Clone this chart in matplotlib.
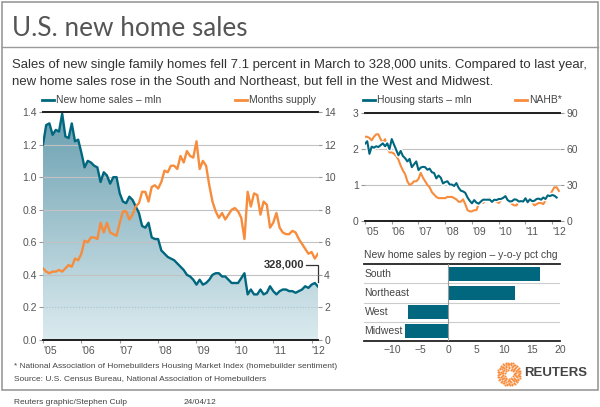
import matplotlib.pyplot as plt
import matplotlib.patheffects as pe
import numpy as np
from matplotlib.colors import LinearSegmentedColormap
from matplotlib.lines import Line2D
from matplotlib.patches import Rectangle

plt.rcParams['font.family'] = ['Liberation Sans', 'DejaVu Sans']

TEAL = '#00677f'
ORANGE = '#f68c3c'
GRAY_TXT = '#555555'

# monthly, Jan 2005 - Mar 2012, mln units (annual rate)
new_home_sales = [
    1.20, 1.32, 1.33, 1.26, 1.29, 1.28, 1.39, 1.25, 1.24, 1.33, 1.22, 1.23,
    1.15, 1.06, 1.10, 1.09, 1.07, 1.06, 0.97, 1.03, 1.01, 0.96, 1.00, 1.00,
    0.90, 0.85, 0.84, 0.88, 0.86, 0.82, 0.78, 0.70, 0.69, 0.72, 0.63, 0.62,
    0.62, 0.55, 0.53, 0.51, 0.50, 0.49, 0.47, 0.45, 0.43, 0.40, 0.39, 0.37,
    0.34, 0.37, 0.34, 0.35, 0.37, 0.40, 0.41, 0.41, 0.39, 0.39, 0.37, 0.35,
    0.35, 0.35, 0.38, 0.41, 0.28, 0.31, 0.28, 0.28, 0.31, 0.28, 0.29, 0.33,
    0.30, 0.28, 0.30, 0.31, 0.31, 0.30, 0.30, 0.29, 0.30, 0.31, 0.33, 0.32,
    0.34, 0.35, 0.328,
]

# months supply, Jan 2005 - Mar 2012
months_supply = [
    4.4, 4.2, 4.1, 4.2, 4.2, 4.3, 4.2, 4.4, 4.6, 4.5, 5.0, 4.9,
    5.3, 6.1, 6.0, 6.3, 6.3, 6.2, 7.2, 6.6, 7.2, 6.6, 6.5, 6.4,
    7.2, 7.9, 7.9, 7.4, 7.7, 8.2, 8.4, 9.1, 9.1, 8.5, 9.4, 9.5,
    9.3, 9.7, 10.4, 10.3, 10.7, 10.7, 10.5, 11.3, 10.9, 11.6, 11.3, 11.2,
    12.2, 10.5, 11.0, 10.7, 9.5, 8.5, 7.9, 7.5, 7.8, 7.4, 7.7, 8.0,
    8.1, 7.9, 7.5, 6.2, 9.1, 8.2, 9.0, 8.9, 7.7, 8.5, 8.3, 6.9,
    7.2, 7.8, 6.9, 6.6, 6.5, 6.5, 6.7, 6.6, 6.2, 5.9, 5.6, 5.3,
    5.4, 5.0, 5.3,
]

# housing starts, mln, Jan 2005 - Mar 2012
housing_starts = [
    2.14, 2.21, 1.86, 2.06, 2.03, 2.07, 2.05, 2.10, 2.15, 2.07, 2.15, 1.99,
    2.27, 2.12, 1.97, 1.82, 1.94, 1.80, 1.74, 1.65, 1.72, 1.49, 1.57, 1.65,
    1.41, 1.48, 1.50, 1.49, 1.42, 1.45, 1.35, 1.33, 1.18, 1.26, 1.20, 1.04,
    1.08, 1.10, 1.01, 1.01, 0.97, 1.05, 0.92, 0.84, 0.82, 0.78, 0.65, 0.56,
    0.49, 0.58, 0.51, 0.48, 0.54, 0.59, 0.59, 0.59, 0.59, 0.53, 0.59, 0.58,
    0.61, 0.61, 0.64, 0.69, 0.58, 0.54, 0.55, 0.60, 0.59, 0.54, 0.55, 0.54,
    0.63, 0.52, 0.60, 0.55, 0.56, 0.61, 0.62, 0.59, 0.65, 0.61, 0.71, 0.69,
    0.72, 0.70, 0.65,
]

# NAHB housing market index, Jan 2005 - Apr 2012
nahb = [
    70, 70, 69, 67, 70, 72, 72, 68, 65, 68, 61, 57,
    57, 56, 54, 51, 46, 42, 39, 33, 30, 31, 33, 33,
    35, 40, 36, 33, 30, 28, 24, 22, 20, 19, 19, 19,
    19, 20, 20, 20, 19, 18, 16, 16, 18, 14, 9, 8,
    8, 9, 9, 14, 16, 15, 17, 18, 19, 17, 17, 16,
    15, 17, 19, 22, 17, 16, 14, 13, 13, 16, 16, 16,
    16, 15, 17, 16, 13, 14, 15, 15, 14, 17, 19, 21,
    25, 28, 28, 25,
]

regions = ['South', 'Northeast', 'West', 'Midwest']
region_chg = [16.4, 12.0, -7.2, -7.7]

year_labels = ["'05", "'06", "'07", "'08", "'09", "'10", "'11", "'12"]

W, H = 600, 407


def fx(px):
    return px / W


def fy(py):
    return 1 - py / H


def box(l, t, r, b):
    return [fx(l), fy(b), (r - l) / W, (b - t) / H]


def style(ax, ax_twin=None):
    for a in [ax] + ([ax_twin] if ax_twin else []):
        a.spines['left'].set_visible(False)
        a.spines['right'].set_visible(False)
        a.spines['top'].set_color('#222222')
        a.spines['bottom'].set_color('#222222')
        a.spines['top'].set_linewidth(1.3)
        a.spines['bottom'].set_linewidth(1.3)
        a.tick_params(labelsize=7.5, labelcolor=GRAY_TXT, color='#999999',
                      length=3, width=0.8, pad=1.5)


fig = plt.figure(figsize=(6, 4.07), dpi=100)

# ---------------- main chart ----------------
ax1 = fig.add_axes(box(43, 112, 318, 340))
ax2 = ax1.twinx()
x = np.arange(len(new_home_sales))

poly = ax1.fill_between(x, new_home_sales, 0, facecolor='none', edgecolor='none')
grad = np.linspace(1, 0, 256).reshape(-1, 1)
cmap = LinearSegmentedColormap.from_list('fill', ['#dbebef', '#6a9fb0'])
im = ax1.imshow(grad, extent=[0, len(x) - 1, 0, 1.4], aspect='auto',
                cmap=cmap, origin='upper', zorder=0)
im.set_clip_path(poly.get_paths()[0], transform=ax1.transData)
ax1.plot(x, new_home_sales, color=TEAL, lw=1.7, zorder=3)
ax2.plot(x, months_supply, color=ORANGE, lw=1.7)

ax1.set_xlim(0, len(x) - 1)
ax1.set_ylim(0, 1.4)
ax2.set_ylim(0, 14)
ax1.set_yticks(np.arange(0, 1.41, 0.2))
ax1.set_yticklabels([f'{v:.1f}' for v in np.arange(0, 1.41, 0.2)])
ax2.set_yticks(np.arange(0, 15, 2))
ax1.set_xticks(np.arange(0, 85, 12))
ax1.set_xticklabels(year_labels, ha='left')
style(ax1, ax2)
ax1.tick_params(axis='x', length=2, pad=2)
ax1.yaxis.grid(True, color='#c2c2c2', lw=0.8)
for line, val in zip(ax1.get_ygridlines(), np.arange(0, 1.41, 0.2)):
    if abs(val - 0.2) < 1e-6:
        line.set_linestyle(':')
        line.set_color('#a8c4cc')

# 328,000 callout
last_x, last_y = x[-1], new_home_sales[-1]
ax1.plot([last_x - 3.8, last_x, last_x], [last_y + 0.135, last_y + 0.135, last_y + 0.03],
         color='#333333', lw=0.9, clip_on=False, zorder=5)
ax1.text(last_x - 4.2, last_y + 0.135, f'{round(last_y * 1e6):,}',
         ha='right', va='center', fontsize=8, fontweight='bold', color='#333333')

# ---------------- housing starts ----------------
ax4 = fig.add_axes(box(365, 112.7, 560, 221))
ax3 = ax4.twinx()
ax3.set_zorder(ax4.get_zorder() + 1)
ax3.patch.set_visible(False)
ax4.plot(np.arange(len(nahb)), nahb, color=ORANGE, lw=1.5)
ax3.plot(np.arange(len(housing_starts)), housing_starts, color=TEAL, lw=1.5,
         path_effects=[pe.Stroke(linewidth=3.5, foreground='white'), pe.Normal()])
ax4.set_xlim(0, 87.5)
ax4.set_ylim(0, 90)
ax3.set_ylim(0, 3)
ax4.set_yticks([0, 30, 60, 90])
ax3.set_yticks([0, 1, 2, 3])
ax4.yaxis.tick_right()
ax3.yaxis.tick_left()
ax4.set_xticks(np.arange(0, 85, 12))
ax4.set_xticklabels(year_labels, ha='left')
style(ax4, ax3)
ax4.tick_params(axis='x', length=2, pad=2)
ax4.yaxis.grid(True, color='#c2c2c2', lw=0.8)

# ---------------- regional bars ----------------
ax5 = fig.add_axes(box(364, 264, 560, 341))
ypos = np.arange(len(regions))
ax5.barh(ypos, region_chg, height=0.74, color=TEAL, zorder=2)
ax5.set_xlim(-15, 20)
ax5.set_ylim(len(regions) - 0.5, -0.5)
for sep in ypos[:-1] + 0.5:
    ax5.axhline(sep, color='#cccccc', lw=0.8, zorder=1)
ax5.axvline(0, color='#999999', lw=0.8, zorder=3)
for yv, name in zip(ypos, regions):
    ax5.text(0.003, yv, name, transform=ax5.get_yaxis_transform(),
             ha='left', va='center', fontsize=7.5, color='#444444', zorder=4)
ax5.set_yticks([])
ax5.set_xticks(np.arange(-10, 21, 5))
style(ax5)
ax5.tick_params(axis='x', length=0, pad=3)

# ---------------- legends / text ----------------
def legend_item(x0, y, color, label):
    fig.add_artist(Line2D([fx(x0), fx(x0 + 12)], [fy(y), fy(y)], color=color, lw=2,
                          transform=fig.transFigure))
    fig.text(fx(x0 + 14), fy(y), label, ha='left', va='center', fontsize=7.5,
             color='#444444')


legend_item(42, 100, TEAL, 'New home sales \u2013 mln')
legend_item(235, 100, ORANGE, 'Months supply')
legend_item(363, 100, TEAL, 'Housing starts \u2013 mln')
legend_item(515, 100, ORANGE, 'NAHB*')

fig.text(fx(364), fy(255), 'New home sales by region \u2013 y-o-y pct chg', ha='left',
         va='center', fontsize=7.5, color='#444444')

fig.add_artist(Rectangle((fx(2), fy(390)), 596 / W, 388 / H, fill=False,
                         ec='#9a9a9a', lw=1.2, transform=fig.transFigure))
fig.add_artist(Line2D([fx(2), fx(598)], [fy(47), fy(47)], color='#9a9a9a', lw=1.0,
                      transform=fig.transFigure))

fig.text(fx(12), fy(36), 'U.S. new home sales', ha='left', va='baseline',
         fontsize=18.8, color='#555555', family=['Lato', 'Liberation Sans'])
fig.text(fx(12), fy(68), 'Sales of new single family homes fell 7.1 percent in March to '
         '328,000 units. Compared to last year,', ha='left', va='baseline',
         fontsize=9.45, color='#333333')
fig.text(fx(12), fy(84), 'new home sales rose in the South and Northeast, but fell in '
         'the West and Midwest.', ha='left', va='baseline', fontsize=9.45, color='#333333')

fig.text(fx(14), fy(368), '* National Association of Homebuilders Housing Market Index '
         '(homebuilder sentiment)', ha='left', va='baseline', fontsize=6.0, color='#444444')
fig.text(fx(14), fy(380), 'Source: U.S. Census Bureau, National Association of Homebuilders',
         ha='left', va='baseline', fontsize=6.0, color='#444444')
fig.text(fx(14), fy(404), 'Reuters graphic/Stephen Culp', ha='left', va='baseline',
         fontsize=6.0, color='#444444')
fig.text(fx(184), fy(404), '24/04/12', ha='left', va='baseline', fontsize=6.0,
         color='#444444')

# Reuters logo
axl = fig.add_axes(box(497, 362, 521, 386))
axl.set_xlim(-1.05, 1.05)
axl.set_ylim(-1.05, 1.05)
axl.axis('off')
for r in np.linspace(0.4, 1.0, 6):
    n = int(28 * r)
    ang = np.linspace(0, 2 * np.pi, n, endpoint=False) + r * 3
    axl.scatter(r * np.cos(ang), r * np.sin(ang), s=2.2, color=ORANGE, lw=0)
fig.text(fx(524), fy(373), 'REUTERS', ha='left', va='center', fontsize=9.5,
         fontweight='bold', color='#444444')

fig.savefig('out.png', dpi=100)
